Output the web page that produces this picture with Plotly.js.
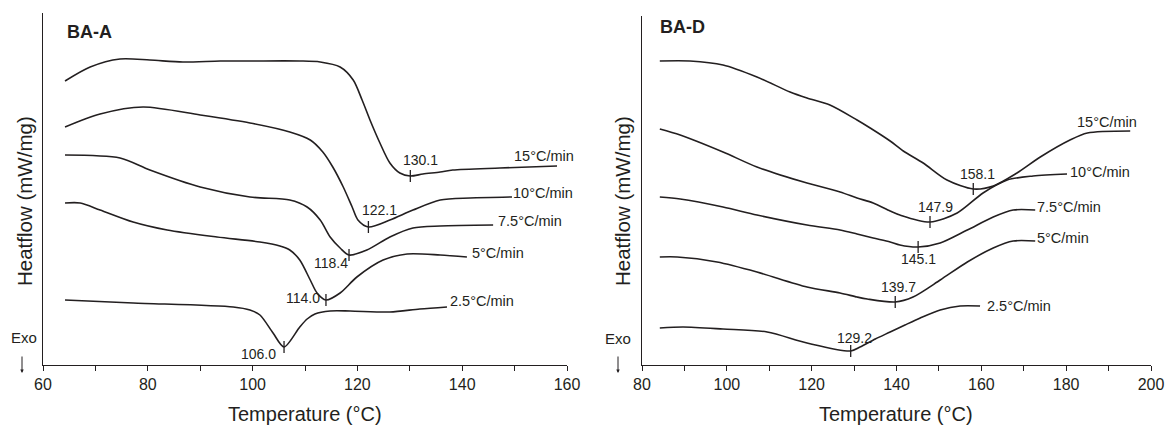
<!DOCTYPE html>
<html><head><meta charset="utf-8">
<script src="https://cdn.plot.ly/plotly-3.0.1.min.js"></script>
<style>html,body{margin:0;padding:0;background:#fff}#chart{width:1166px;height:426px}</style>
</head><body><div id="chart"></div>
<script>
// heating rates (°C/min), top curve first
const rates = ['15', '10', '7.5', '5', '2.5'];

// ---- BA-A : temperature (°C) and heat flow (arbitrary, stacked) ----
const tA15 = [64.2,69.0,74.7,80.4,86.7,93.8,99.5,109.0,112.9,116.7,119.2,120.9,122.4,124.3,126.2,128.1,130.1,132.5,135.8,138.2,147.2,158.1];
const hA15 = [284,298,306,305,303,304,304,304,303,298,285,265,245,222,202,192,189,191,193,195,197,199];
const tA10 = [64.2,70.9,79.1,90.0,99.5,107.1,111.0,113.4,115.3,117.3,119.0,120.1,122.1,126.2,130.6,135.8,141.5,149.5];
const hA10 = [238,251,258,250,242,233,225,213,198,178,158,145,138,145,155,165,167,168];
const tA75 = [64.2,74.7,80.4,90.0,99.5,107.1,110.4,112.9,114.8,116.7,118.4,121.8,126.2,130.6,135.8,145.9];
const hA75 = [210,207,195,178,168,165,158,145,128,117,110,115,128,137,139,140];
const tA5  = [64.2,67.1,70.9,77.2,83.7,93.2,101.4,105.2,107.1,109.0,111.0,112.3,114.0,116.7,119.9,124.9,129.5,135.8,140.9];
const hA5  = [162,162,155,143,135,128,123,119,115,105,85,72,65,72,88,105,111,110,108];
const tA25 = [64.2,77.2,96.3,99.5,101.4,103.9,106.0,109.0,110.4,111.9,114.8,118.6,126.2,131.9,137.1];
const hA25 = [65,62,58,55,50,32,18,38,46,51,54,54,53,56,58];
const peaksA = [130.1, 122.1, 118.4, 114.0, 106.0];

// ---- BA-D ----
const tD15 = [84.2,91.3,99.1,107.1,114.9,118.9,124.3,130.7,133.8,138.5,141.6,146.3,151.9,158.1,162.8,168.4,173.9,180.9,185.0,195.1];
const hD15 = [304,304,300,288,273,267,260,245,237,224,214,202,185,176,179,192,208,225,232,234];
const tD10 = [84.2,89.0,99.1,107.1,118.9,126.7,130.7,134.5,138.5,140.8,147.9,154.3,160.4,166.1,172.2,180.2];
const hD10 = [236,230,213,198,182,173,167,162,154,150,143,152,172,185,189,191];
const tD75 = [84.2,89.0,99.1,107.1,118.9,126.7,130.7,134.5,138.5,140.8,145.1,150.3,156.7,162.8,167.5,172.7];
const hD75 = [168,166,158,150,140,135,131,127,123,120,118,122,135,148,155,155];
const tD5  = [84.2,88.3,97.7,107.1,118.9,126.7,130.7,133.1,139.7,143.9,150.3,156.7,162.8,167.5,172.7];
const hD5  = [108,108,103,93,78,72,68,66,63,68,85,103,117,124,124];
const tD25 = [84.2,89.7,99.1,109.5,118.9,129.2,131.4,135.0,138.5,142.0,145.6,150.3,155.0,159.7];
const hD25 = [37,38,36,33,22,14,18,26,33,40,47,55,59,59];
const peaksD = [158.1, 147.9, 145.1, 139.7, 129.2];

const xTicksA = [60, 80, 100, 120, 140, 160];
const xTicksD = [80, 100, 120, 140, 160, 180, 200];

// ---- styling ----
const INK = '#231f20';
const FONT = '"Liberation Sans", Arial, Helvetica, sans-serif';
const rateStyleA = [{a:'right',dx:18,dy:10},{a:'left',dx:0,dy:4},{a:'left',dx:4,dy:4},{a:'left',dx:4,dy:4},{a:'left',dx:2,dy:6}];
const rateStyleD = [{a:'right',dx:8,dy:9},{a:'left',dx:2,dy:2},{a:'left',dx:1,dy:3},{a:'left',dx:1,dy:3},{a:'left',dx:6,dy:0}];
const peakStyleA = [[10,16],[11,17],[-18,-8],[-23,2],[-26,-7]];
const peakStyleD = [[4,15],[5,15],[0,-12],[3,15],[4,13]];

const seriesA = [[tA15,hA15],[tA10,hA10],[tA75,hA75],[tA5,hA5],[tA25,hA25]];
const seriesD = [[tD15,hD15],[tD10,hD10],[tD75,hD75],[tD5,hD5],[tD25,hD25]];

function interp(xs, ys, x) {
  for (let i = 0; i < xs.length - 1; i++) {
    if (x >= xs[i] && x <= xs[i+1]) {
      const f = (x - xs[i]) / (xs[i+1] - xs[i]);
      return ys[i] + f * (ys[i+1] - ys[i]);
    }
  }
  return ys[ys.length - 1];
}

const traces = [];
const annotations = [];

function addPanel(series, peaks, xa, ya, rateStyle, peakStyle) {
  series.forEach((s, i) => {
    const [tx, hy] = s;
    traces.push({x: tx, y: hy, xaxis: xa, yaxis: ya, mode: 'lines', type: 'scatter',
      line: {color: INK, width: 1.6, shape: 'spline', smoothing: 0.8}, hoverinfo: 'skip', showlegend: false});
    const p = peaks[i];
    const yp = interp(tx, hy, p);
    traces.push({x: [p, p], y: [yp - 6, yp + 6], xaxis: xa, yaxis: ya, mode: 'lines', type: 'scatter',
      line: {color: INK, width: 1.3}, hoverinfo: 'skip', showlegend: false});
    annotations.push({x: p, y: yp, xref: xa, yref: ya, text: p.toFixed(1), showarrow: false,
      xanchor: 'center', yanchor: 'middle',
      xshift: peakStyle[i][0], yshift: peakStyle[i][1], font: {family: FONT, size: 14, color: INK}});
    const rs = rateStyle[i];
    annotations.push({x: tx[tx.length-1], y: hy[hy.length-1], xref: xa, yref: ya,
      text: rates[i] + '°C/min', showarrow: false, xanchor: rs.a, yanchor: 'middle',
      xshift: rs.dx, yshift: rs.dy, borderpad: 0, font: {family: FONT, size: 14.5, color: INK}});
  });
}
addPanel(seriesA, peaksA, 'x', 'y', rateStyleA, peakStyleA);
addPanel(seriesD, peaksD, 'x2', 'y2', rateStyleD, peakStyleD);

const W = 1166, H = 426;
const px = v => v / W, py = v => (H - v) / H;

annotations.push({xref:'paper', yref:'paper', x: px(65), y: py(32), xanchor:'left', yanchor:'middle', showarrow:false,
  text:'<b>BA-A</b>', font:{family:FONT, size:18, color:INK}});
annotations.push({xref:'paper', yref:'paper', x: px(658), y: py(27), xanchor:'left', yanchor:'middle', showarrow:false,
  text:'<b>BA-D</b>', font:{family:FONT, size:18, color:INK}});
[[24, 201], [622, 201]].forEach(([cx, cy]) => {
  annotations.push({xref:'paper', yref:'paper', x: px(cx), y: py(cy), xanchor:'center', yanchor:'middle',
    textangle: -90, showarrow:false, text:'Heatflow (mW/mg)', font:{family:FONT, size:20.5, color:INK}});
});
[[305, 414], [896, 414]].forEach(([cx, cy]) => {
  annotations.push({xref:'paper', yref:'paper', x: px(cx), y: py(cy), xanchor:'center', yanchor:'middle',
    showarrow:false, text:'Temperature (°C)', font:{family:FONT, size:20, color:INK}});
});
[[23.5, 337, 22], [618.5, 338, 618]].forEach(([cx, cy, ax]) => {
  annotations.push({xref:'paper', yref:'paper', x: px(cx), y: py(cy), xanchor:'center', yanchor:'middle',
    showarrow:false, text:'Exo', font:{family:FONT, size:15, color:INK}});
  annotations.push({xref:'paper', yref:'paper', x: px(ax), y: py(373), showarrow:true, text:'',
    ax: 0, ay: -18, arrowhead: 2, arrowsize: 0.7, arrowwidth: 1, arrowcolor: INK});
});

function xaxisCfg(domain, range, ticks) {
  return {domain, range, tickvals: ticks, ticktext: ticks.map(String), ticks: 'outside', ticklen: 5,
    tickwidth: 1, tickcolor: INK, showline: true, linecolor: INK, linewidth: 1.2, showgrid: false, zeroline: false,
    tickfont: {family: FONT, size: 16, color: INK}, fixedrange: true,
    minor: {dtick: 10, tick0: 0, ticks: 'outside', ticklen: 5, tickwidth: 1, tickcolor: INK, showgrid: false}};
}
function yaxisCfg(domain, range, anchor) {
  return {domain, range, anchor, showline: true, linecolor: INK, linewidth: 1.2, ticks: '', showticklabels: false,
    showgrid: false, zeroline: false, fixedrange: true};
}

const layout = {
  width: W, height: H, margin: {l: 0, r: 0, t: 0, b: 0}, paper_bgcolor: '#fff', plot_bgcolor: '#fff',
  showlegend: false,
  xaxis: Object.assign(xaxisCfg([px(43), px(567)], [60, 160], xTicksA), {anchor: 'y'}),
  yaxis: yaxisCfg([py(365), py(13)], [0, 352], 'x'),
  xaxis2: Object.assign(xaxisCfg([px(642), px(1151)], [80, 200], xTicksD), {anchor: 'y2'}),
  yaxis2: yaxisCfg([py(365), py(16)], [0, 349], 'x2'),
  annotations
};

Plotly.newPlot('chart', traces, layout, {displayModeBar: false, staticPlot: true});
</script></body></html>
